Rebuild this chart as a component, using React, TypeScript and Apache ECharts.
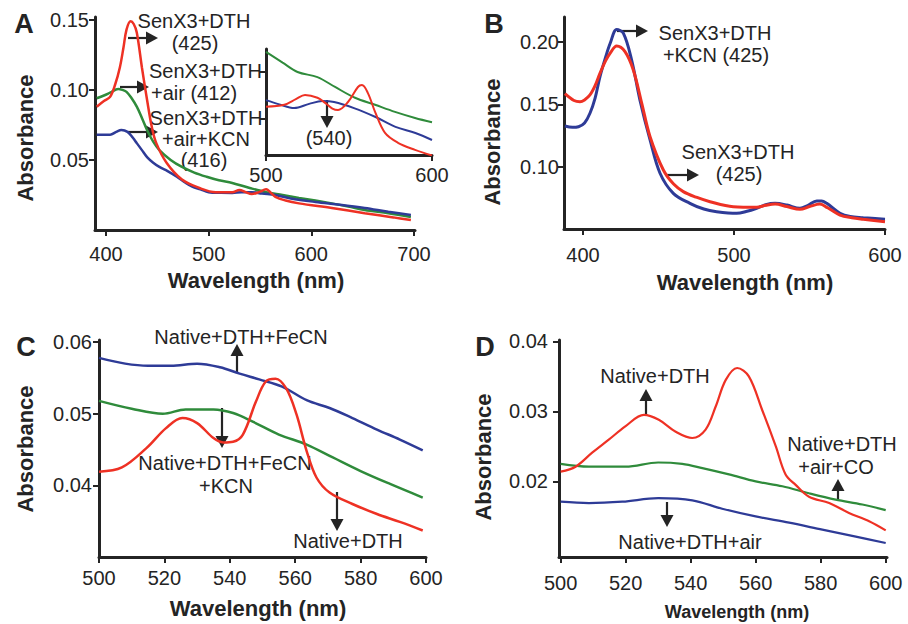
import React, { useEffect, useRef } from "react";
import * as echarts from "echarts";

// ---------- Data (wavelength nm, absorbance) ----------
const A_RED: [number, number][] = [
  [391, 0.088], [398, 0.092], [404, 0.095], [409, 0.104], [413.5, 0.116], [417, 0.13], [420, 0.143],
  [424, 0.149], [427, 0.147], [430, 0.141], [435, 0.116], [440, 0.093], [444.5, 0.074], [449, 0.062],
  [459, 0.048], [474, 0.036], [491, 0.03], [507, 0.027], [523, 0.027], [530, 0.0286], [536, 0.027],
  [542, 0.0257], [549, 0.027], [556, 0.029], [560, 0.027], [565, 0.0236], [575, 0.021], [588, 0.019],
  [620, 0.0157], [652, 0.012], [680, 0.009], [697, 0.0071],
];
const A_BLUE: [number, number][] = [
  [391, 0.068], [398, 0.068], [404, 0.068], [410, 0.07], [415, 0.0714], [421, 0.07], [426, 0.066],
  [430, 0.062], [435, 0.057], [440, 0.052], [446, 0.048], [452, 0.045], [460, 0.042], [469, 0.038],
  [477, 0.034], [484, 0.031], [492, 0.029], [500, 0.027], [512, 0.0265], [523, 0.0264], [532, 0.027],
  [542, 0.027], [552, 0.026], [565, 0.025], [580, 0.0225], [604, 0.02], [628, 0.018], [652, 0.0157],
  [675, 0.013], [697, 0.0107],
];
const A_GREEN: [number, number][] = [
  [391, 0.094], [398, 0.096], [404, 0.098], [412, 0.1007], [416, 0.1], [420, 0.0986], [425, 0.094],
  [430, 0.088], [435, 0.08], [440, 0.0714], [446, 0.063], [452, 0.057], [463, 0.05], [474, 0.045],
  [486, 0.041], [498, 0.038], [510, 0.0355], [523, 0.0336], [540, 0.03], [556, 0.027], [572, 0.025],
  [588, 0.0229], [604, 0.021], [620, 0.019], [636, 0.0168], [652, 0.0143], [675, 0.012], [697, 0.0093],
];
// inset of A (500-600 nm)
const AI_GREEN: [number, number][] = [
  [500, 0.0443], [510, 0.042], [519, 0.04], [531, 0.0389], [541.6, 0.0368], [553.6, 0.0345],
  [565.7, 0.033], [577.7, 0.0315], [589.8, 0.0302], [600, 0.0293],
];
const AI_BLUE: [number, number][] = [
  [500, 0.034], [508, 0.0331], [517, 0.0323], [526, 0.0332], [534, 0.0338], [541, 0.0336],
  [553, 0.0323], [566, 0.0304], [578, 0.0283], [590, 0.027], [600, 0.0255],
];
const AI_RED: [number, number][] = [
  [500, 0.0326], [511, 0.033], [518, 0.0342], [523.5, 0.0351], [531, 0.0345], [536, 0.0333],
  [540, 0.0322], [543.4, 0.0319], [549.4, 0.0336], [555.4, 0.0368], [557.8, 0.0372], [561.4, 0.0355],
  [565.7, 0.0315], [571.7, 0.027], [579.5, 0.0249], [589.8, 0.0234], [600, 0.0222],
];
const B_BLUE: [number, number][] = [
  [388, 0.1326], [393, 0.1315], [397, 0.132], [401, 0.135], [404.6, 0.1428], [408, 0.155], [411.2, 0.172],
  [415, 0.188], [418, 0.1989], [422.3, 0.21], [426.7, 0.207], [432.2, 0.1855], [437.7, 0.1534],
  [444.4, 0.1214], [451, 0.0947], [459.8, 0.0786], [470.8, 0.0706], [480, 0.066], [488.5, 0.0639],
  [501.8, 0.0626], [508, 0.064], [515, 0.0666], [521, 0.0695], [527.2, 0.0706], [535, 0.0692],
  [543.7, 0.0666], [549, 0.069], [554.8, 0.0725], [558, 0.0725], [561.4, 0.0706], [570.2, 0.0626],
  [577, 0.06], [585.6, 0.0591], [600, 0.0578],
];
const B_RED: [number, number][] = [
  [388, 0.1585], [394, 0.153], [398, 0.152], [401, 0.1535], [404.6, 0.1575], [408, 0.165], [411.2, 0.1748],
  [415, 0.185], [417.9, 0.1909], [422.3, 0.1967], [427.8, 0.1922], [433.3, 0.1775], [438.9, 0.1508],
  [444.4, 0.124], [453.2, 0.0973], [460, 0.086], [466.4, 0.08], [475, 0.0755], [484.1, 0.0719],
  [499.5, 0.0679], [515, 0.0674], [521, 0.069], [527.2, 0.07], [535, 0.068], [543.7, 0.0658],
  [550, 0.068], [556.9, 0.07], [562, 0.067], [570.2, 0.0612], [578, 0.059], [585.6, 0.0578], [600, 0.0559],
];
const C_BLUE: [number, number][] = [
  [500, 0.0578], [508, 0.057], [515, 0.0567], [522, 0.0567], [530, 0.057], [537, 0.0565], [543, 0.0556],
  [549, 0.0548], [556, 0.0538], [563.5, 0.0519], [570.5, 0.0508], [577.5, 0.0494], [585, 0.0478],
  [592, 0.0464], [599, 0.0449],
];
const C_GREEN: [number, number][] = [
  [500, 0.0518], [510, 0.0507], [519.5, 0.05], [526.5, 0.0506], [535, 0.0506], [541, 0.0501],
  [547, 0.0489], [555, 0.0471], [563.5, 0.0457], [571.5, 0.0439], [580, 0.042], [589, 0.0402], [599, 0.0383],
];
const C_RED: [number, number][] = [
  [500, 0.0419], [507, 0.0425], [514.5, 0.0452], [520.5, 0.048], [525.5, 0.0494], [530, 0.0487],
  [535, 0.0466], [538, 0.046], [541, 0.0461], [544, 0.0471], [548, 0.0517], [551, 0.0545], [554, 0.0549],
  [557.3, 0.0535], [560.4, 0.0499], [563.5, 0.0448], [566.5, 0.0411], [570.5, 0.039], [577.5, 0.0374],
  [585, 0.036], [592, 0.0349], [599, 0.0337],
];
const D_RED: [number, number][] = [
  [500, 0.0214], [504.6, 0.0221], [509.7, 0.0241], [514.9, 0.026], [520, 0.0279], [525.6, 0.0295],
  [530.2, 0.0288], [535.4, 0.0271], [540.5, 0.0262], [544.6, 0.0274], [547.7, 0.0307], [550.8, 0.0345],
  [554.3, 0.0362], [557.9, 0.035], [562, 0.0302], [566.2, 0.025], [569.2, 0.021], [572.3, 0.0195],
  [576.4, 0.0178], [582.6, 0.0169], [588.7, 0.0155], [594.9, 0.0143], [600, 0.013],
];
const D_GREEN: [number, number][] = [
  [500, 0.0225], [508.7, 0.0221], [520, 0.0221], [530, 0.0227], [537.4, 0.0225], [543.6, 0.0219],
  [551.8, 0.021], [560, 0.02], [568.2, 0.0193], [576.4, 0.0183], [584.6, 0.0174], [592.8, 0.0167], [600, 0.0159],
];
const D_BLUE: [number, number][] = [
  [500, 0.0171], [508.7, 0.0169], [519, 0.0171], [530, 0.0176], [540.5, 0.0173], [549.7, 0.0161],
  [560, 0.015], [570.3, 0.0141], [580.5, 0.0131], [590.8, 0.0121], [600, 0.0112],
];

const A_X_TICKS = [400, 500, 600, 700];
const A_Y_TICKS = [0.05, 0.1, 0.15];
const AI_X_TICKS = [500, 600];
const AI_Y_TICKS = [0.03, 0.04];
const B_X_TICKS = [400, 500, 600];
const B_Y_TICKS = [0.1, 0.15, 0.2];
const CD_X_TICKS = [500, 520, 540, 560, 580, 600];
const C_Y_TICKS = [0.04, 0.05, 0.06];
const D_Y_TICKS = [0.02, 0.03, 0.04];

// ---------- Styles ----------
const FONT = "'Liberation Sans', Arial, Helvetica, sans-serif";
const RED = "#ee3124";
const BLUE = "#2e3b97";
const GREEN = "#2f8b3b";
const INK = "#242424";

function xAx(gi: number, min: number, max: number, ticks: number[], margin: number) {
  return {
    type: "value", gridIndex: gi, min, max,
    axisLine: { show: true, onZero: false, lineStyle: { color: INK, width: 3 } },
    axisTick: { show: true, customValues: ticks, length: 6, lineStyle: { color: INK, width: 2 } },
    axisLabel: { show: true, customValues: ticks, margin, fontSize: 20, color: INK, fontFamily: FONT },
    splitLine: { show: false },
  };
}
function yAx(gi: number, min: number, max: number, ticks: number[], margin: number, labels = true) {
  return {
    type: "value", gridIndex: gi, min, max,
    axisLine: { show: true, onZero: false, lineStyle: { color: INK, width: 3 } },
    axisTick: { show: true, customValues: ticks, length: 6, lineStyle: { color: INK, width: 2 } },
    axisLabel: {
      show: labels, customValues: ticks, margin, fontSize: 20, color: INK, fontFamily: FONT,
      formatter: (v: number) => v.toFixed(2),
    },
    splitLine: { show: false },
  };
}
function line(idx: number, data: [number, number][], color: string, width = 2.5) {
  return {
    type: "line", xAxisIndex: idx, yAxisIndex: idx, data, showSymbol: false, smooth: 0.35,
    lineStyle: { color, width }, itemStyle: { color }, clip: true, silent: true,
  };
}
function txt(text: string, x: number, y: number, size = 20, weight = "normal", align = "center", rot = 0) {
  return {
    type: "text", x, y, rotation: rot, silent: true,
    style: { text, fill: INK, font: `${weight} ${size}px ${FONT}`, align, verticalAlign: "middle" },
  };
}
function arrow(x1: number, y1: number, x2: number, y2: number, head = 12, w = 13) {
  const dx = x2 - x1, dy = y2 - y1;
  const len = Math.sqrt(dx * dx + dy * dy);
  const ux = dx / len, uy = dy / len;
  const bx = x2 - ux * head, by = y2 - uy * head;
  const px = -uy * (w / 2), py = ux * (w / 2);
  return [
    { type: "line", silent: true, shape: { x1, y1, x2: bx, y2: by }, style: { stroke: INK, lineWidth: 2.2 } },
    {
      type: "polygon", silent: true,
      shape: { points: [[x2, y2], [bx + px, by + py], [bx - px, by - py]] },
      style: { fill: INK },
    },
  ];
}

export default function App() {
  const ref = useRef<HTMLDivElement>(null);
  useEffect(() => {
    if (!ref.current) return;
    const chart = echarts.init(ref.current, undefined, { renderer: "svg" });
    const graphic: any[] = [
      // panel letters
      txt("A", 24, 24, 27, "bold"), txt("B", 494, 24, 27, "bold"),
      txt("C", 26, 347, 27, "bold"), txt("D", 485, 347, 27, "bold"),
      // axis titles
      txt("Absorbance", 25, 138, 22, "bold", "center", Math.PI / 2),
      txt("Absorbance", 492, 142, 22, "bold", "center", Math.PI / 2),
      txt("Absorbance", 25, 449, 22, "bold", "center", Math.PI / 2),
      txt("Absorbance", 483, 457, 22, "bold", "center", Math.PI / 2),
      txt("Wavelength (nm)", 256, 280, 22, "bold"),
      txt("Wavelength (nm)", 745, 282, 22, "bold"),
      txt("Wavelength (nm)", 258, 608, 22, "bold"),
      txt("Wavelength (nm)", 737, 612, 18, "bold"),
      // Panel A annotations
      txt("SenX3+DTH", 194, 21), txt("(425)", 195, 43),
      ...arrow(128, 38, 158, 38),
      txt("SenX3+DTH", 149, 71, 20, "normal", "left"), txt("+air (412)", 151, 93, 20, "normal", "left"),
      ...arrow(120, 87, 149, 87),
      txt("SenX3+DTH", 206, 118), txt("+air+KCN", 206, 139), txt("(416)", 204, 160),
      ...arrow(128, 132, 158, 132),
      ...arrow(327, 100, 327, 128),
      txt("(540)", 329, 138),
      // Panel B annotations
      ...arrow(617, 31, 648, 31),
      txt("SenX3+DTH", 715, 33), txt("+KCN (425)", 716, 55),
      ...arrow(665, 175, 699, 175),
      txt("SenX3+DTH", 738, 152), txt("(425)", 739, 174),
      // Panel C annotations
      ...arrow(237, 372, 237, 344),
      txt("Native+DTH+FeCN", 241, 337),
      ...arrow(222, 408, 222, 448),
      txt("Native+DTH+FeCN", 225, 463), txt("+KCN", 226, 486),
      ...arrow(337, 492, 337, 531),
      txt("Native+DTH", 348, 541),
      // Panel D annotations
      ...arrow(646, 415, 646, 389),
      txt("Native+DTH", 655, 376),
      ...arrow(838, 501, 838, 479),
      txt("Native+DTH", 842, 444), txt("+air+CO", 836, 467),
      ...arrow(667, 502, 667, 527),
      txt("Native+DTH+air", 690, 542),
    ];
    chart.setOption({
      animation: false,
      backgroundColor: "#ffffff",
      grid: [
        { left: 95, top: 17, width: 320, height: 213 },
        { left: 266, top: 49, width: 166, height: 106 },
        { left: 564, top: 17, width: 321, height: 212 },
        { left: 99, top: 340, width: 327, height: 217 },
        { left: 559, top: 340, width: 328, height: 217 },
      ],
      xAxis: [
        xAx(0, 389.3, 701, A_X_TICKS, 14),
        xAx(1, 500, 600, AI_X_TICKS, 10),
        xAx(2, 387.4, 600, B_X_TICKS, 16),
        xAx(3, 500, 600, CD_X_TICKS, 11),
        xAx(4, 499.5, 600.4, CD_X_TICKS, 16),
      ],
      yAxis: [
        yAx(0, 0, 0.152, A_Y_TICKS, 6),
        yAx(1, 0.0223, 0.0449, AI_Y_TICKS, 6, false),
        yAx(2, 0.05, 0.22, B_Y_TICKS, 5),
        yAx(3, 0.03, 0.0603, C_Y_TICKS, 7),
        yAx(4, 0.0092, 0.0402, D_Y_TICKS, 11),
      ],
      series: [
        line(0, A_GREEN, GREEN), line(0, A_BLUE, BLUE), line(0, A_RED, RED),
        line(1, AI_GREEN, GREEN, 2), line(1, AI_BLUE, BLUE, 2), line(1, AI_RED, RED, 2),
        line(2, B_BLUE, BLUE, 3), line(2, B_RED, RED, 3),
        line(3, C_BLUE, BLUE), line(3, C_GREEN, GREEN), line(3, C_RED, RED),
        line(4, D_GREEN, GREEN, 2.2), line(4, D_BLUE, BLUE, 2.2), line(4, D_RED, RED, 2.2),
      ],
      graphic,
    });
    return () => chart.dispose();
  }, []);
  return (
    <div
      ref={ref}
      style={{ position: "fixed", left: 0, top: 0, width: 908, height: 624, background: "#fff" }}
    />
  );
}
